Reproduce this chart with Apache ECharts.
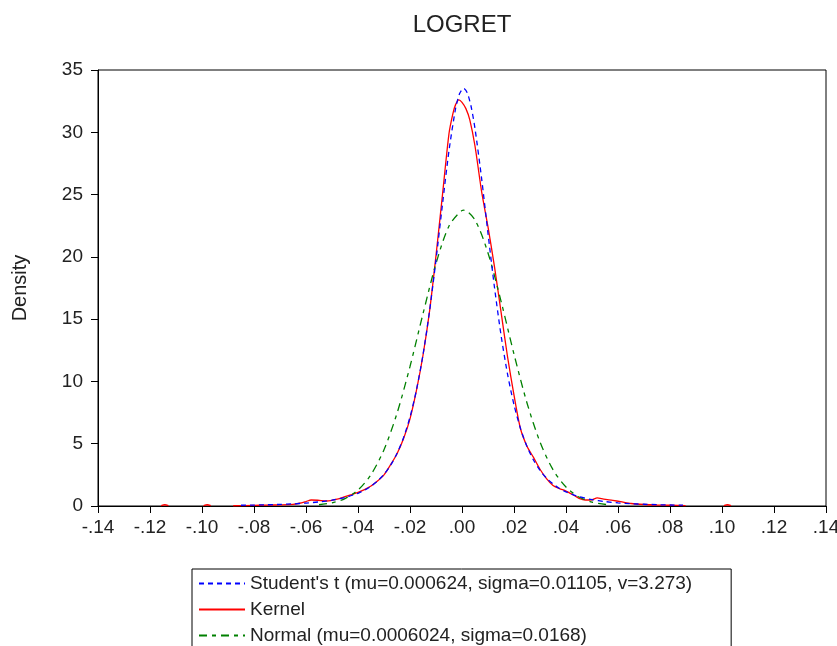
<!DOCTYPE html>
<html>
<head>
<meta charset="utf-8">
<script src="https://cdn.jsdelivr.net/npm/echarts@6/dist/echarts.min.js"></script>
<style>
html,body{margin:0;padding:0;background:#fff;}
#chart{width:837px;height:646px;}
</style>
</head>
<body>
<div id="chart"></div>
<script>
// ---- data ----
const chartTitle = 'LOGRET';
const yAxisName = 'Density';
const seriesNames = ["Student's t (mu=0.000624, sigma=0.01105, v=3.273)", 'Kernel', 'Normal (mu=0.0006024, sigma=0.0168)'];

const studentX = [-0.085,-0.08,-0.075,-0.07,-0.065,-0.06,-0.055,-0.05,-0.045,-0.04,-0.0375,-0.035,-0.0325,-0.03,-0.0275,-0.025,-0.0225,-0.02,-0.0175,-0.015,-0.0125,-0.01,-0.0075,-0.005,-0.0025,-0.001,0.0006,0.002,0.0035,0.005,0.0075,0.01,0.0125,0.015,0.0175,0.02,0.0225,0.025,0.0275,0.03,0.0325,0.035,0.0375,0.04,0.045,0.05,0.055,0.06,0.065,0.07,0.075,0.08,0.085];
const studentY = [0.06,0.076,0.099,0.13,0.17,0.235,0.33,0.47,0.68,1.02,1.27,1.59,2.0,2.54,3.26,4.21,5.48,7.14,9.33,12.14,15.63,19.75,24.24,28.53,31.87,33.07,33.53,33.18,32.07,30.30,26.36,21.88,17.54,13.73,10.60,8.12,6.22,4.77,3.69,2.86,2.24,1.77,1.41,1.13,0.75,0.51,0.355,0.25,0.186,0.14,0.105,0.081,0.063];

// null entries break the kernel line (isolated outlier bumps)
const kernelX = [-0.1157,-0.1143,-0.1129,-0.112,-0.0994,-0.098,-0.0966,-0.095,
  -0.088,-0.08,-0.075,-0.07,-0.065,-0.0625,-0.06,-0.058,-0.0555,-0.052,-0.048,-0.045,-0.0425,-0.04,-0.0375,-0.035,-0.0325,-0.03,-0.0275,-0.025,-0.0225,-0.02,-0.0175,-0.015,-0.0125,-0.01,-0.0075,-0.005,-0.0035,-0.0025,-0.0012,0,0.0015,0.003,0.005,0.0075,0.01,0.0125,0.015,0.0175,0.02,0.0225,0.025,0.0275,0.03,0.0325,0.035,0.0375,0.04,0.0425,0.045,0.0475,0.05,0.052,0.0545,0.058,0.061,0.065,0.07,0.075,0.08,0.086,0.09,
  0.1007,0.1021,0.1035];
const kernelY = [0.03,0.1,0.03,null,0.03,0.1,0.03,null,
  0.02,0.05,0.07,0.09,0.13,0.22,0.36,0.48,0.46,0.40,0.55,0.75,0.92,1.10,1.32,1.60,2.0,2.5,3.3,4.2,5.4,7.0,9.3,12.1,15.6,20.1,25.0,29.9,31.5,32.2,32.6,32.4,31.9,31.0,28.9,25.3,22.4,19.2,15.6,12.0,8.9,6.2,4.8,3.9,2.95,2.2,1.65,1.4,1.2,0.92,0.62,0.48,0.50,0.65,0.55,0.45,0.35,0.20,0.12,0.08,0.06,0.03,null,
  0.03,0.1,0.03];

const normalX = [-0.055,-0.05,-0.045,-0.04,-0.035,-0.03,-0.025,-0.02,-0.015,-0.01,-0.005,0,0.0006,0.005,0.01,0.015,0.02,0.025,0.03,0.035,0.04,0.045,0.05,0.056];
const normalY = [0.099,0.255,0.597,1.28,2.52,4.52,7.44,11.20,15.43,19.46,22.47,23.73,23.75,22.95,20.31,16.45,12.19,8.27,5.14,2.92,1.52,0.72,0.315,0.103];

const xTickMin = -0.14, xTickMax = 0.14, xTickStep = 0.02;
const yTickMin = 0, yTickMax = 35, yTickStep = 5;

// ---- chart ----
const font = "'Liberation Sans', Arial, Helvetica, sans-serif";
const textColor = '#222';
const pairs = (xs, ys) => xs.map((x, i) => [x, ys[i]]);
const fmtX = v => {
  const r = Math.round(v * 100) / 100;
  const s = Math.abs(r).toFixed(2).replace(/^0/, '');
  return (r < 0 ? '-' : '') + s;
};

const chart = echarts.init(document.getElementById('chart'), null, {renderer: 'canvas'});
chart.setOption({
  animation: false,
  backgroundColor: '#fff',
  title: {
    text: chartTitle,
    left: 457,
    top: 8,
    textAlign: 'center',
    textStyle: {fontFamily: font, fontSize: 24, fontWeight: 'normal', color: textColor}
  },
  grid: {
    left: 98, right: 11, top: 70, bottom: 140,
    show: true, borderColor: '#000', borderWidth: 1,
    outerBoundsMode: 'none', containLabel: false
  },
  legend: {
    data: seriesNames,
    orient: 'vertical',
    left: 192, top: 569,
    height: 300,
    align: 'left',
    itemWidth: 46, itemHeight: 14, itemGap: 7,
    padding: [5, 39, 40, 6],
    borderColor: '#000', borderWidth: 1,
    backgroundColor: '#fff',
    itemStyle: {color: 'rgba(0,0,0,0)', borderWidth: 0, borderColor: 'rgba(0,0,0,0)'},
    textStyle: {fontFamily: font, fontSize: 19, color: textColor, lineHeight: 19},
    selectedMode: false
  },
  xAxis: {
    type: 'value',
    min: xTickMin, max: xTickMax, interval: xTickStep,
    axisLine: {show: true, onZero: false, lineStyle: {color: '#000', width: 1}},
    axisTick: {show: true, inside: false, length: 7, lineStyle: {color: '#000'}},
    axisLabel: {formatter: fmtX, fontFamily: font, fontSize: 19, color: textColor, margin: 12, showMinLabel: true, showMaxLabel: true},
    splitLine: {show: false}
  },
  yAxis: {
    type: 'value',
    min: yTickMin, max: yTickMax, interval: yTickStep,
    name: yAxisName,
    nameLocation: 'middle',
    nameGap: 68,
    nameTextStyle: {fontFamily: font, fontSize: 20, color: textColor},
    axisLine: {show: true, onZero: false, lineStyle: {color: '#000', width: 1}},
    axisTick: {show: true, inside: false, length: 7, lineStyle: {color: '#000'}},
    axisLabel: {fontFamily: font, fontSize: 19, color: textColor, margin: 15},
    splitLine: {show: false}
  },
  series: [
    {
      name: seriesNames[1], type: 'line', data: pairs(kernelX, kernelY),
      symbol: 'none', smooth: 0.25, connectNulls: false, z: 2,
      lineStyle: {color: '#ff0000', width: 1.3, type: 'solid'},
      itemStyle: {color: '#ff0000'}
    },
    {
      name: seriesNames[2], type: 'line', data: pairs(normalX, normalY),
      symbol: 'none', smooth: 0.3, z: 3,
      lineStyle: {color: '#008000', width: 1.3, type: [8, 5, 4, 5]},
      itemStyle: {color: '#008000'}
    },
    {
      name: seriesNames[0], type: 'line', data: pairs(studentX, studentY),
      symbol: 'none', smooth: 0.25, z: 4,
      lineStyle: {color: '#0000ff', width: 1.3, type: [5, 4]},
      itemStyle: {color: '#0000ff'}
    }
  ]
});
</script>
</body>
</html>
